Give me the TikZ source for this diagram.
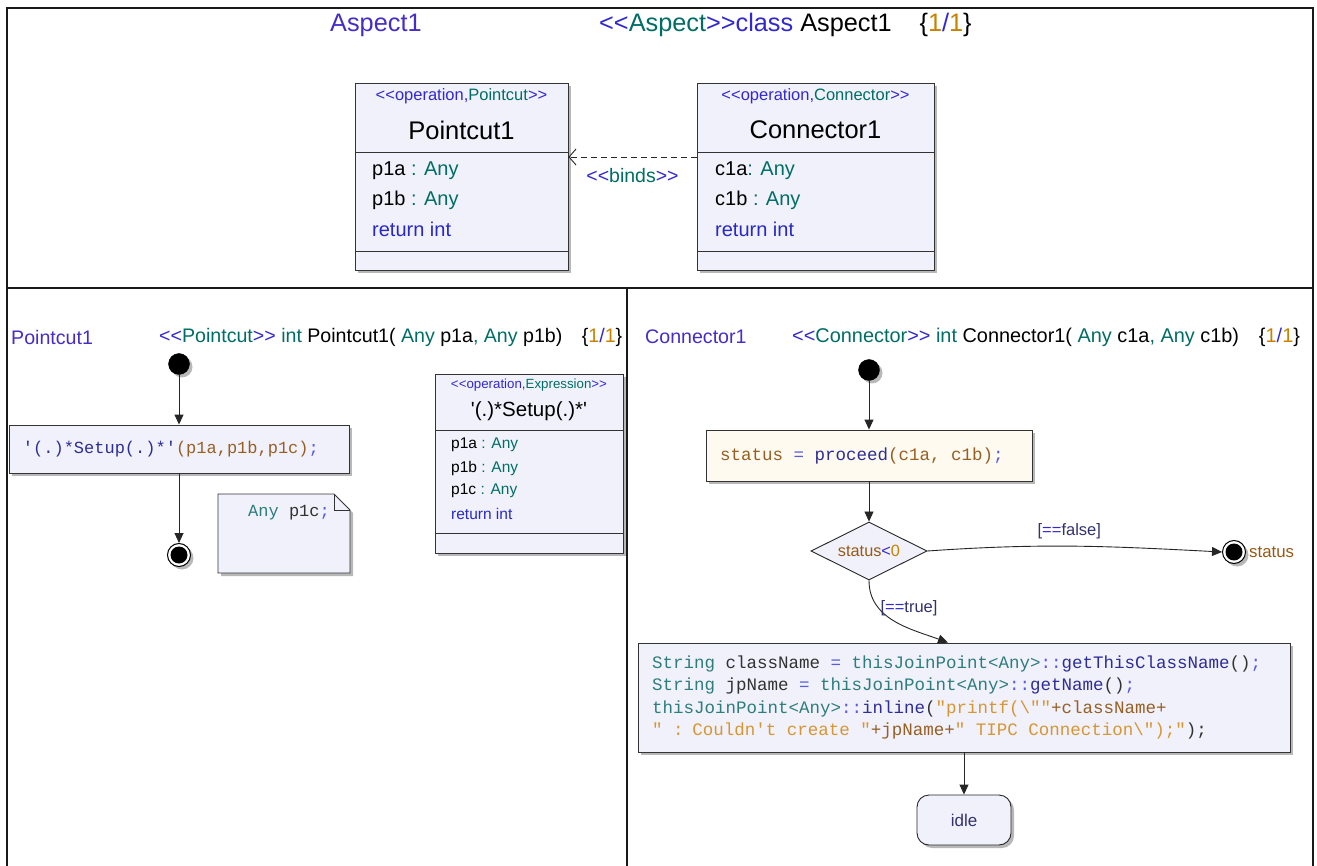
\documentclass[tikz,border=0pt]{standalone}
\usepackage{fontspec}
\setmainfont{Liberation Sans}[Ligatures=TeXOff]
\setmonofont{Liberation Mono}[Ligatures=TeXOff]
\usetikzlibrary{arrows.meta,shapes.geometric,shadows}
\definecolor{ctitle}{RGB}{70,45,200}
\definecolor{cst}{RGB}{50,40,210}
\definecolor{cteal}{RGB}{0,110,100}
\definecolor{corange}{RGB}{200,130,0}
\definecolor{cbrown}{RGB}{150,90,20}
\definecolor{cnavy}{RGB}{50,50,110}
\definecolor{ckw}{RGB}{40,40,200}
\definecolor{cfill}{RGB}{241,241,252}
\definecolor{ccream}{RGB}{254,250,240}
\definecolor{xteal}{RGB}{45,125,125}
\definecolor{xnavy}{RGB}{45,45,150}
\definecolor{xop}{RGB}{90,90,220}
\definecolor{xbrown}{RGB}{150,95,35}
\definecolor{xorange}{RGB}{215,150,50}
\definecolor{xdark}{RGB}{50,50,50}
\newcommand\kTeal[1]{\textcolor{xteal}{#1}}
\newcommand\kNavy[1]{\textcolor{xnavy}{#1}}
\newcommand\kOp[1]{\textcolor{xop}{#1}}
\newcommand\kBrown[1]{\textcolor{xbrown}{#1}}
\newcommand\kOrange[1]{\textcolor{xorange}{#1}}
\newcommand\kDark[1]{\textcolor{xdark}{#1}}
\newcommand\fixspace{\spaceskip=0.6em\relax}
\tikzset{
  frame/.style={draw=black!90, line width=1.4pt},
  shad/.style={drop shadow={shadow xshift=3pt, shadow yshift=-3pt, fill=black, opacity=0.28}},
  classbox/.style={draw=black!80, line width=0.9pt, fill=cfill, inner sep=0pt, shad},
  sepline/.style={draw=black!80, line width=0.9pt},
  txt/.style={inner sep=0pt},
  hdr/.style={txt, font=\fontsize{25.3}{30}\selectfont},
  hdrtwo/.style={txt, font=\fontsize{19.6}{23}\selectfont},
  stereo/.style={txt, font=\fontsize{16.5}{20}\selectfont},
  cname/.style={txt, font=\fontsize{25.5}{30}\selectfont},
  attr/.style={txt, font=\fontsize{20}{24}\selectfont, anchor=west},
  mono/.style={font=\ttfamily\fontsize{17.5}{22.3}\selectfont},
  monosm/.style={font=\ttfamily\fontsize{17}{21}\selectfont},
  action/.style={draw=black!80, line width=0.9pt, fill=cfill, shad, mono, align=left, inner ysep=0pt},
  initial/.style={circle, fill=black, draw=black, minimum size=21pt, inner sep=0pt, shad},
  final/.style={circle, draw=black, line width=1pt, fill=white, minimum size=23pt, inner sep=0pt, shad,
     path picture={\fill[black] (path picture bounding box.center) circle (8.5pt);}},
  flow/.style={draw=black!85, line width=0.9pt, -{Triangle[length=10pt,width=9pt]}},
  binds/.style={draw=black!85, line width=0.9pt, dashed, dash pattern=on 6pt off 4pt, -{Straight Barb[length=7pt,width=16pt]}},
  small/.style={txt, font=\fontsize{16.5}{20}\selectfont},
}
\begin{document}
\begin{tikzpicture}[x=1pt,y=-1pt]
\useasboundingbox (0,0) rectangle (1317,866);
\fill[white] (0,0) rectangle (1317,866);

% ---------- frame ----------
\draw[frame] (7,866) -- (7,8) -- (1313,8) -- (1313,866);
\draw[frame] (7,288) -- (1313,288);
\draw[frame] (627,288) -- (627,866);

% ---------- top header ----------
\node[hdr, text=ctitle, anchor=west] (htitle) at (330,25) {Aspect1};
\node[hdr, anchor=west] (hsig) at (599,25) {\textcolor{cst}{<<}\textcolor{cteal}{Aspect}\textcolor{cst}{>>class} Aspect1\hspace{1.1em}\{\textcolor{corange}{1}\textcolor{cst}{/}\textcolor{corange}{1}\}};

% ---------- Pointcut1 class ----------
\node[classbox, minimum width=213pt, minimum height=187pt] (pc) at (461.5,176.5) {};
\draw[sepline] (355,152) -- (568,152);
\draw[sepline] (355,251) -- (568,251);
\node[stereo] (pcst) at (461.5,96) {\textcolor{cst}{<<operation,}\textcolor{cteal}{Pointcut}\textcolor{cst}{>>}};
\node[cname] (pcnm) at (461.5,130) {Pointcut1};
\node[attr] (pca1) at (372,171) {p1a \textcolor{cteal}{: Any}};
\node[attr] (pca2) at (372,200) {p1b \textcolor{cteal}{: Any}};
\node[attr] (pca3) at (372,229) {\textcolor{ckw}{return int}};

% ---------- Connector1 class ----------
\node[classbox, minimum width=237pt, minimum height=187pt] (cn) at (815.5,176.5) {};
\draw[sepline] (697,152) -- (934,152);
\draw[sepline] (697,251) -- (934,251);
\node[stereo] (cnst) at (815.5,96) {\textcolor{cst}{<<operation,}\textcolor{cteal}{Connector}\textcolor{cst}{>>}};
\node[cname] (cnnm) at (815.5,130) {Connector1};
\node[attr] (cna1) at (715,171) {c1a\textcolor{cteal}{: Any}};
\node[attr] (cna2) at (715,200) {c1b \textcolor{cteal}{: Any}};
\node[attr] (cna3) at (715,229) {\textcolor{ckw}{return int}};

\draw[binds] ([yshift=19.5pt]cn.west) -- node[txt, font=\fontsize{19.5}{23}\selectfont, yshift=-19pt] (bl) {\textcolor{cst}{<<}\textcolor{cteal}{binds}\textcolor{cst}{>>}} ([yshift=19.5pt]pc.east);

% ---------- left panel ----------
\node[hdrtwo, text=ctitle, anchor=west] (lt) at (11,337) {Pointcut1};
\node[hdrtwo, anchor=west] (ls) at (159,337) {\textcolor{cst}{<<}\textcolor{cteal}{Pointcut}\textcolor{cst}{>>} \textcolor{cteal}{int} Pointcut1( \textcolor{cteal}{Any} p1a\textcolor{cteal}{,} \textcolor{cteal}{Any} p1b)\hspace{1em}\{\textcolor{corange}{1}\textcolor{cst}{/}\textcolor{corange}{1}\}};

\node[initial] (li) at (179,364) {};
\node[action, monosm, minimum width=340pt, minimum height=48pt, text width=312pt, inner xsep=14pt] (la) at (179,449)
  {\fixspace\kNavy{'(.)*Setup(.)*'}\kBrown{(p1a,p1b,p1c)}\kOp{;}};
\node[final] (lf) at (179,555) {};
\draw[flow] (li) -- (la);
\draw[flow] (la) -- (lf);

% note
\draw[draw=black!80, line width=0.9pt, fill=cfill, shad] (218,494) -- (334,494) -- (350,510) -- (350,573) -- (218,573) -- cycle;
\draw[draw=black!80, line width=0.9pt] (334,494) -- (334,510) -- (350,510);
\node[txt, monosm, anchor=west] (nt) at (248,513) {\fixspace\kTeal{Any} \kDark{p1c}\kOp{;}};

% expression class
\node[classbox, minimum width=188pt, minimum height=179pt] (ex) at (529,463.5) {};
\draw[sepline] (435,430) -- (623,430);
\draw[sepline] (435,533) -- (623,533);
\node[txt, font=\fontsize{13.3}{16}\selectfont] (exst) at (529,385) {\textcolor{cst}{<<operation,}\textcolor{cteal}{Expression}\textcolor{cst}{>>}};
\node[txt, font=\fontsize{20.5}{24}\selectfont] (exnm) at (529,411) {'(.)*Setup(.)*'};
\node[txt, font=\fontsize{15.5}{19}\selectfont, anchor=west] (exa1) at (451,445) {p1a \textcolor{cteal}{: Any}};
\node[txt, font=\fontsize{15.5}{19}\selectfont, anchor=west] (exa2) at (451,468) {p1b \textcolor{cteal}{: Any}};
\node[txt, font=\fontsize{15.5}{19}\selectfont, anchor=west] (exa3) at (451,491) {p1c \textcolor{cteal}{: Any}};
\node[txt, font=\fontsize{15.5}{19}\selectfont, anchor=west] (exa4) at (451,514) {\textcolor{ckw}{return int}};

% ---------- right panel ----------
\node[hdrtwo, text=ctitle, anchor=west] (rt) at (645,337) {Connector1};
\node[hdrtwo, anchor=west, font=\fontsize{19.9}{23}\selectfont] (rs) at (792,337) {\textcolor{cst}{<<}\textcolor{cteal}{Connector}\textcolor{cst}{>>} \textcolor{cteal}{int} Connector1( \textcolor{cteal}{Any} c1a\textcolor{cteal}{,} \textcolor{cteal}{Any} c1b)\hspace{1em}\{\textcolor{corange}{1}\textcolor{cst}{/}\textcolor{corange}{1}\}};

\node[initial] (ri) at (869,370) {};
\node[action, fill=ccream, minimum width=326pt, minimum height=51pt, text width=298pt, inner xsep=14pt] (ra) at (869,455.5)
  {\fixspace\kBrown{status} \kOp{=} \kNavy{proceed}\kBrown{(c1a, c1b)}\kOp{;}};
\node[diamond, draw=black!85, line width=0.9pt, fill=cfill, aspect=2, minimum width=116pt, minimum height=58pt, inner sep=0pt, font=\fontsize{16.3}{20}\selectfont] (rd) at (869,551)
  {\textcolor{cbrown}{status}\textcolor{cst}{<}\textcolor{corange}{0}};
\node[final] (rf) at (1234,552) {};
\node[small, anchor=west, text=cbrown, font=\fontsize{16.8}{20}\selectfont] (rfl) at (1249,552) {status};

\node[action, minimum width=652pt, minimum height=109pt, text width=624pt, inner xsep=14pt] (rc) at (964,697.5)
  {\fixspace\kTeal{String} \kDark{className} \kOp{=} \kTeal{thisJoinPoint<Any>}\kOp{::}\kNavy{getThisClassName}\kDark{()}\kOp{;}\\
   \kTeal{String} \kDark{jpName} \kOp{=} \kTeal{thisJoinPoint<Any>}\kOp{::}\kNavy{getName}\kDark{()}\kOp{;}\\
   \kTeal{thisJoinPoint<Any>}\kOp{::}\kNavy{inline}\kDark{(}\kOrange{"printf(\textbackslash""}\kBrown{+className+}\\
   \kOrange{" : Couldn't create "}\kBrown{+jpName+}\kOrange{" TIPC Connection\textbackslash");"}\kDark{);}};

\node[draw=black!85, line width=0.9pt, fill=cfill, rounded corners=12pt, minimum width=94pt, minimum height=50pt, shad, text=cnavy, font=\fontsize{17}{20}\selectfont] (ridle) at (964,820) {idle};

\draw[flow] (ri) -- (ra);
\draw[flow] (ra) -- (rd);
\draw[flow] (rd.east) to[out=4, in=177]
  node[small, pos=0.48, above=7pt, text=cnavy] (lfalse) {[\textcolor{cst}{==}false]} (rf.west);
\draw[flow] (rd.south) to[out=-90, in=160]
  node[small, pos=0.3, right=1pt, text=cnavy] (ltrue) {[\textcolor{cst}{==}true]} ([xshift=-16pt]rc.north);
\draw[flow] (rc) -- (ridle);
\end{tikzpicture}
\end{document}
